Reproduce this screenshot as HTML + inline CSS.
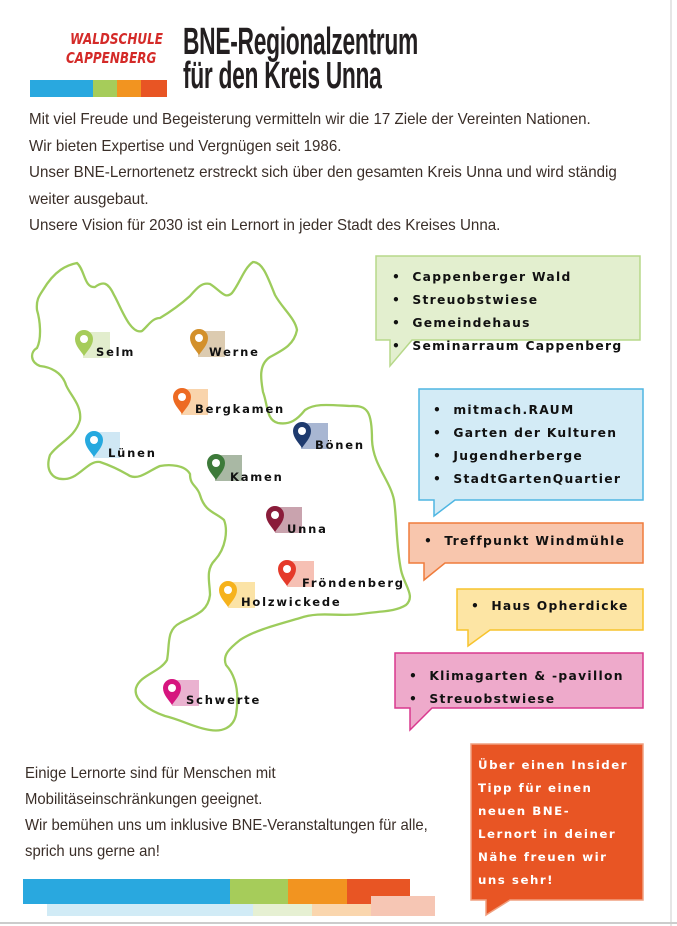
<!DOCTYPE html>
<html><head><meta charset="utf-8"><style>
html,body{margin:0;padding:0;background:#fff}
#p{position:relative;width:677px;height:926px;overflow:hidden;background:#fff}
.a{position:absolute;white-space:nowrap}
.body{font-family:"Liberation Sans",sans-serif;font-size:16px;color:#3a2e28;transform-origin:0 0}
.t{font-family:"DejaVu Sans",sans-serif;font-weight:bold;font-size:12.3px;color:#111;letter-spacing:1.3px}
.pl{font-family:"DejaVu Sans",sans-serif;font-weight:bold;font-size:11.5px;color:#111;letter-spacing:1.8px}
.w{color:#fff}
</style></head><body><div id="p">
<svg class="a" style="left:0;top:0" width="677" height="926">
<line x1="671" y1="0" x2="671" y2="926" stroke="#ddd" stroke-width="1.5"/>
<line x1="0" y1="923" x2="677" y2="923" stroke="#ccc" stroke-width="2"/>
<rect x="30" y="80" width="63" height="17" fill="#29a8df"/>
<rect x="93" y="80" width="24" height="17" fill="#a6cc5a"/>
<rect x="117" y="80" width="24" height="17" fill="#f29420"/>
<rect x="141" y="80" width="26" height="17" fill="#e85524"/>
<path d="M43,290 C55,270 67,265 77,263 C85,270 84,288 95,287 C103,281 108,282 114,295 C120,305 130,335 142,331 C148,326 152,318 160,318 C170,312 180,305 190,296 C197,288 202,282 210,284 C220,290 225,300 232,293 C240,283 244,268 253,262 C263,262 268,278 275,295 C282,308 295,318 297,330 C294,345 283,350 270,357 C258,365 261,380 263,392 C268,405 266,420 278,423 C290,425 297,420 305,410 C315,403 330,405 350,406 C368,405 372,412 372,440 C373,465 390,480 394,500 C397,520 396,545 401,570 C404,585 416,596 406,605 C395,612 380,611 360,614 C340,617 320,611 300,618 C280,624 255,630 240,640 C230,648 222,655 226,665 C235,675 240,690 236,715 C233,728 222,732 210,730 C195,728 182,720 165,716 C150,711 133,700 136,688 C140,675 160,672 167,660 C170,645 166,630 180,623 C195,615 208,612 210,595 C210,583 205,570 215,560 C226,548 228,530 224,520 C215,512 205,512 200,495 C197,485 190,486 190,474 C185,465 170,464 160,466 C150,470 140,480 130,476 C120,470 112,466 100,462 C88,460 80,478 65,479 C52,480 45,470 50,455 C58,443 75,438 80,420 C82,405 70,395 66,385 C62,372 50,367 40,366 C30,362 30,352 37,348 C42,338 40,320 37,310 C36,300 39,296 43,290 Z" fill="none" stroke="#9dcc5c" stroke-width="2.3"/>
<g stroke-width="1.5">
<path d="M376,256 H640 V340 H412 L390,366 V340 H376 Z" fill="#e3efcf" stroke="#b7d88a"/>
<path d="M419,389 H643 V500 H455 L434,516 V500 H419 Z" fill="#d3ebf6" stroke="#4fb6e2"/>
<path d="M409,523 H643 V563 H445 L424,580 V563 H409 Z" fill="#f8c6ad" stroke="#ef7c3c"/>
<path d="M457,589 H643 V630 H490 L468,646 V630 H457 Z" fill="#fde5a4" stroke="#f7c32d"/>
<path d="M395,653 H643 V708 H432 L410,730 V708 H395 Z" fill="#eeaacb" stroke="#d9388e"/>
<path d="M471,744 H643 V900 H510 L486,915 V900 H471 Z" fill="#e85524" stroke="#f0a080"/>
</g>
<rect x="23" y="879" width="207" height="25" fill="#29a8df"/>
<rect x="230" y="879" width="58" height="25" fill="#a6cc5a"/>
<rect x="288" y="879" width="59" height="25" fill="#f29420"/>
<rect x="347" y="879" width="63" height="25" fill="#e85524"/>
<rect x="47" y="904" width="206" height="12" fill="#d1ebf6"/>
<rect x="253" y="904" width="59" height="12" fill="#e6f0d3"/>
<rect x="312" y="904" width="59" height="12" fill="#fad6ae"/>
<rect x="371" y="896" width="64" height="20" fill="#f6c6b4"/>
<rect x="410" y="896" width="25" height="8" fill="#f6c6b4"/>
<g>
<rect x="83" y="332" width="27" height="26" fill="#e2edcd"/>
<rect x="198" y="331" width="27" height="26" fill="#dccbb0"/>
<rect x="181" y="389" width="27" height="26" fill="#f9d4ac"/>
<rect x="93" y="432" width="27" height="26" fill="#cfe7f4"/>
<rect x="301" y="423" width="27" height="26" fill="#a8b6d2"/>
<rect x="215" y="455" width="27" height="26" fill="#a9b8a4"/>
<rect x="275" y="507" width="27" height="26" fill="#c9a3ae"/>
<rect x="287" y="561" width="27" height="26" fill="#f6c0b4"/>
<rect x="228" y="582" width="27" height="26" fill="#fbe3a6"/>
<rect x="172" y="680" width="27" height="26" fill="#eab2d0"/>
</g>
<g id="pins">
<g transform="translate(84,343)"><path d="M0,13 C-3,8 -9,3 -9,-4 A9,9 0 0 1 9,-4 C9,3 3,8 0,13 Z" fill="#a6cc5a"/><circle cx="0" cy="-4" r="4" fill="#fff"/></g>
<g transform="translate(199,342)"><path d="M0,13 C-3,8 -9,3 -9,-4 A9,9 0 0 1 9,-4 C9,3 3,8 0,13 Z" fill="#d3902a"/><circle cx="0" cy="-4" r="4" fill="#fff"/></g>
<g transform="translate(182,401)"><path d="M0,13 C-3,8 -9,3 -9,-4 A9,9 0 0 1 9,-4 C9,3 3,8 0,13 Z" fill="#ed6a22"/><circle cx="0" cy="-4" r="4" fill="#fff"/></g>
<g transform="translate(94,444)"><path d="M0,13 C-3,8 -9,3 -9,-4 A9,9 0 0 1 9,-4 C9,3 3,8 0,13 Z" fill="#26a9df"/><circle cx="0" cy="-4" r="4" fill="#fff"/></g>
<g transform="translate(302,435)"><path d="M0,13 C-3,8 -9,3 -9,-4 A9,9 0 0 1 9,-4 C9,3 3,8 0,13 Z" fill="#1e3a6e"/><circle cx="0" cy="-4" r="4" fill="#fff"/></g>
<g transform="translate(216,467)"><path d="M0,13 C-3,8 -9,3 -9,-4 A9,9 0 0 1 9,-4 C9,3 3,8 0,13 Z" fill="#3d7a3a"/><circle cx="0" cy="-4" r="4" fill="#fff"/></g>
<g transform="translate(275,519)"><path d="M0,13 C-3,8 -9,3 -9,-4 A9,9 0 0 1 9,-4 C9,3 3,8 0,13 Z" fill="#8a1c3a"/><circle cx="0" cy="-4" r="4" fill="#fff"/></g>
<g transform="translate(287,573)"><path d="M0,13 C-3,8 -9,3 -9,-4 A9,9 0 0 1 9,-4 C9,3 3,8 0,13 Z" fill="#e53a2a"/><circle cx="0" cy="-4" r="4" fill="#fff"/></g>
<g transform="translate(228,594)"><path d="M0,13 C-3,8 -9,3 -9,-4 A9,9 0 0 1 9,-4 C9,3 3,8 0,13 Z" fill="#f6b21c"/><circle cx="0" cy="-4" r="4" fill="#fff"/></g>
<g transform="translate(172,692)"><path d="M0,13 C-3,8 -9,3 -9,-4 A9,9 0 0 1 9,-4 C9,3 3,8 0,13 Z" fill="#d6157f"/><circle cx="0" cy="-4" r="4" fill="#fff"/></g>
</g>
</svg>

<div class="a" style="left:66px;top:30px;font-family:'DejaVu Sans',sans-serif;font-weight:bold;color:#d42a28;font-size:15px;line-height:19px;transform:scaleX(0.8);transform-origin:0 0;font-style:italic">&nbsp;WALDSCHULE<br>CAPPENBERG</div>
<div class="a" style="left:183px;top:25px;font-family:'Liberation Sans',sans-serif;font-weight:bold;font-size:38px;line-height:34px;color:#231f20;transform:scaleX(0.6);transform-origin:0 0;letter-spacing:-0.5px">BNE-Regionalzentrum<br>für den Kreis Unna</div>

<div class="a body" style="left:29px;top:107px;line-height:26.5px;transform:scaleX(0.947)">Mit viel Freude und Begeisterung vermitteln wir die 17 Ziele der Vereinten Nationen.<br>Wir bieten Expertise und Vergnügen seit 1986.<br>Unser BNE-Lernortenetz erstreckt sich über den gesamten Kreis Unna und wird ständig<br>weiter ausgebaut.<br>Unsere Vision für 2030 ist ein Lernort in jeder Stadt des Kreises Unna.</div>

<div class="a body" style="left:25px;top:761px;line-height:26px;transform:scaleX(0.93)">Einige Lernorte sind für Menschen mit<br>Mobilitäseinschränkungen geeignet.<br>Wir bemühen uns um inklusive BNE-Veranstaltungen für alle,<br>sprich uns gerne an!</div>

<div class="a pl" style="left:96px;top:345px">Selm</div>
<div class="a pl" style="left:209px;top:345px">Werne</div>
<div class="a pl" style="left:195px;top:402px">Bergkamen</div>
<div class="a pl" style="left:108px;top:446px">Lünen</div>
<div class="a pl" style="left:315px;top:438px">Bönen</div>
<div class="a pl" style="left:230px;top:470px">Kamen</div>
<div class="a pl" style="left:287px;top:522px">Unna</div>
<div class="a pl" style="left:302px;top:576px">Fröndenberg</div>
<div class="a pl" style="left:241px;top:595px">Holzwickede</div>
<div class="a pl" style="left:186px;top:693px">Schwerte</div>

<div class="a t" style="left:392px;top:266px;line-height:23px">•&nbsp;&nbsp;Cappenberger Wald<br>•&nbsp;&nbsp;Streuobstwiese<br>•&nbsp;&nbsp;Gemeindehaus<br>•&nbsp;&nbsp;Seminarraum Cappenberg</div>
<div class="a t" style="left:433px;top:399px;line-height:23px">•&nbsp;&nbsp;mitmach.RAUM<br>•&nbsp;&nbsp;Garten der Kulturen<br>•&nbsp;&nbsp;Jugendherberge<br>•&nbsp;&nbsp;StadtGartenQuartier</div>
<div class="a t" style="left:424px;top:534px">•&nbsp;&nbsp;Treffpunkt Windmühle</div>
<div class="a t" style="left:471px;top:599px">•&nbsp;&nbsp;Haus Opherdicke</div>
<div class="a t" style="left:409px;top:665px;line-height:23px">•&nbsp;&nbsp;Klimagarten &amp; -pavillon<br>•&nbsp;&nbsp;Streuobstwiese</div>
<div class="a t w" style="left:478px;top:754px;line-height:23px;font-size:11.8px;letter-spacing:1.5px">Über einen Insider<br>Tipp für einen<br>neuen BNE-<br>Lernort in deiner<br>Nähe freuen wir<br>uns sehr!</div>
</div></body></html>
